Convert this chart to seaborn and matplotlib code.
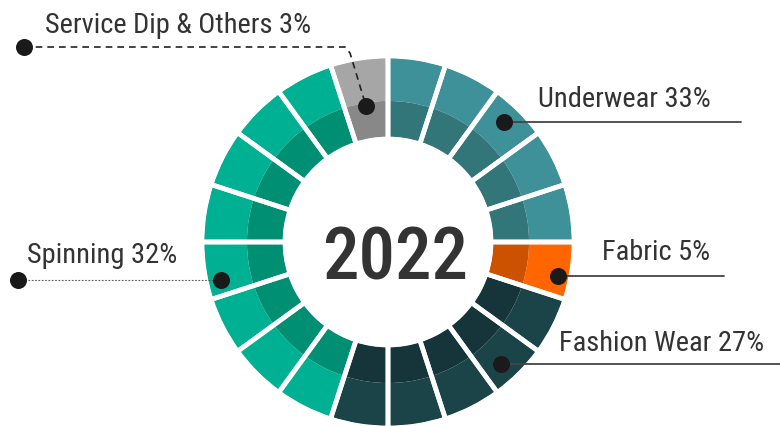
import numpy as np
import matplotlib
matplotlib.use("Agg")
import matplotlib.pyplot as plt
import seaborn as sns
from matplotlib import font_manager
from matplotlib.font_manager import FontProperties

# ---- data ----
categories = ["Underwear", "Fabric", "Fashion Wear", "Spinning", "Service Dip & Others"]
percents = [33, 5, 27, 32, 3]
segments = [5, 1, 5, 8, 1]          # number of blocks drawn per category
year_label = "2022"

outer_colors = ["#3E9198", "#FF6600", "#1B4449", "#00B092", "#A6A6A6"]
inner_colors = ["#32767A", "#CC5200", "#16353A", "#008F73", "#888888"]

sns.set_theme(style="white")

files = [f.fname for f in font_manager.fontManager.ttflist]


def find_font(prefs):
    for p in prefs:
        hits = [f for f in files if p in f.split("/")[-1] and "Italic" not in f
                and "Oblique" not in f]
        if hits:
            return FontProperties(fname=sorted(hits, key=len)[0])
    return FontProperties(family=["Roboto", "DejaVu Sans"])


plt.rcParams["font.family"] = ["Roboto", "DejaVu Sans"]
fp = find_font(["RobotoCondensed-Regular", "LiberationSansNarrow-Regular",
                "DejaVuSansCondensed.ttf"])
fp_year = find_font(["RobotoCondensed-Medium", "RobotoCondensed-SemiBold",
                     "RobotoCondensed-Bold.", "RobotoCondensed-Regular",
                     "LiberationSansNarrow-Bold."])

W, H = 780, 426
fig = plt.figure(figsize=(W / 100, H / 100), dpi=100)
ax = fig.add_axes([0, 0, 1, 1])


def Y(y):
    return H - y


cx, cy = 388, Y(242)
R_out, R_mid, R_in = 184, 141, 105

vals = np.ones(int(np.sum(segments)))
oc = np.repeat(outer_colors, segments)
ic = np.repeat(inner_colors, segments)

ax.pie(vals, colors=oc, startangle=90, counterclock=False, center=(cx, cy),
       radius=R_out, wedgeprops=dict(width=R_out - R_mid, linewidth=0))
ax.pie(vals, colors=ic, startangle=90, counterclock=False, center=(cx, cy),
       radius=R_mid, wedgeprops=dict(width=R_mid - R_in, linewidth=0))
ax.pie(vals, colors=["none"] * len(vals), startangle=90, counterclock=False,
       center=(cx, cy), radius=R_out + 2,
       wedgeprops=dict(width=R_out - R_in + 4, linewidth=3.4, edgecolor="white",
                       facecolor="none"))

ax.set_xlim(0, W)
ax.set_ylim(0, H)
ax.set_aspect("auto")
ax.axis("off")

tc = "#333333"
# labels: (text, x_left, baseline_y, target width px)
labels = [
    (f"{categories[4]} {percents[4]}%", 45, 33, 273),
    (f"{categories[0]} {percents[0]}%", 538, 107, 177),
    (f"{categories[1]} {percents[1]}%", 602, 260, 108),
    (f"{categories[2]} {percents[2]}%", 559, 351, 204),
    (f"{categories[3]} {percents[3]}%", 27, 263, 148),
]
texts = []
for txt, x, yb, tw in labels:
    t = ax.text(x, Y(yb), txt, fontproperties=fp.copy(), fontsize=20, color=tc,
                ha="left", va="baseline")
    texts.append((t, tw))

year = ax.text(395, Y(280), year_label, fontproperties=fp_year.copy(),
               fontsize=60, color=tc, ha="center", va="baseline")

# fit sizes to the reference widths
fig.canvas.draw()
r = fig.canvas.get_renderer()
ratios = [tw / t.get_window_extent(r).width for t, tw in texts]
scale = float(np.median(ratios))
for t, _ in texts:
    t.set_fontsize(min(22, 20 * scale))
wy = year.get_window_extent(r).width
year.set_fontsize(min(72, 60 * 146 / wy))

# leader lines
lc = "#222222"
ax.plot([24, 345, 350, 366], [Y(47), Y(47), Y(53), Y(106)], ls=(0, (4, 3)),
        color=lc, lw=1.2, zorder=5)
ax.plot([504, 741], [Y(122), Y(122)], color="#444444", lw=1.3, zorder=5)
ax.plot([558, 724], [Y(276), Y(276)], color="#444444", lw=1.3, zorder=5)
ax.plot([501, 780], [Y(364), Y(364)], color="#444444", lw=1.3, zorder=5)
ax.plot([18, 221], [Y(280), Y(280)], ls=(0, (1.5, 1.5)), color="#555555",
        lw=0.8, zorder=5)

dots_x = [24, 366, 504, 558, 501, 18, 221]
dots_y = [47, 106, 122, 276, 364, 280, 280]
ax.scatter(dots_x, [Y(v) for v in dots_y], s=150, color="#1a1a1a", zorder=6,
           linewidths=0)

fig.savefig("out.png", dpi=100)
